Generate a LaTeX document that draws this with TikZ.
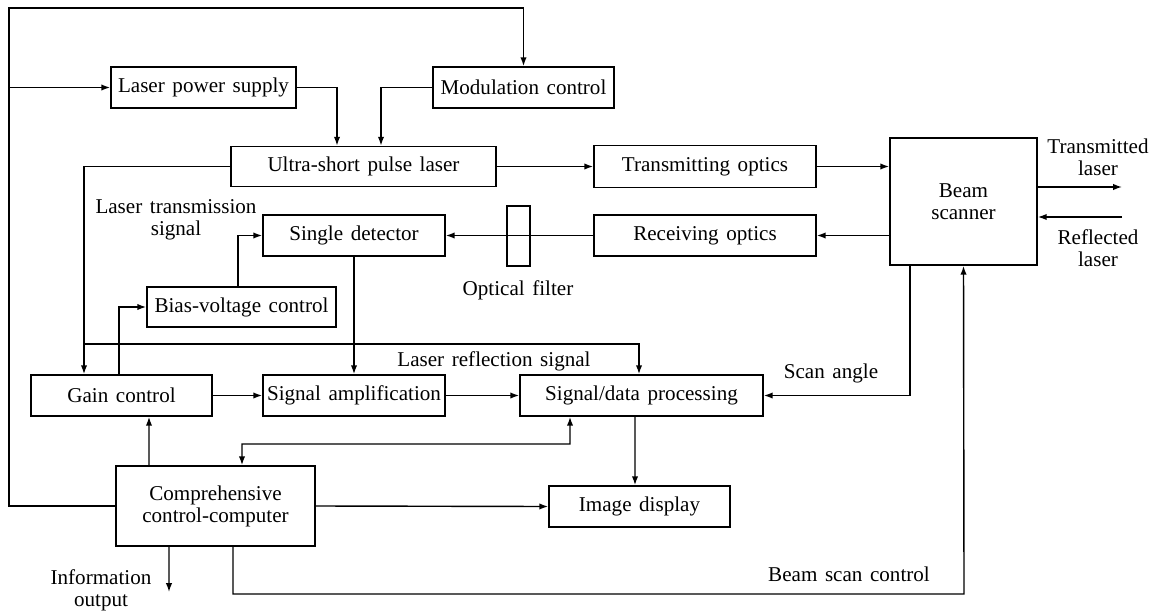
\documentclass[tikz,border=0pt]{standalone}
\usepackage{fontspec}
\setmainfont{Liberation Serif}
\usetikzlibrary{arrows.meta}

\newcommand{\diagfont}{\fontsize{12}{12.5}\selectfont\spaceskip=0.36em\relax}

\begin{document}
\begin{tikzpicture}[x=0.02cm, y=-0.02cm,
    box/.style={draw, line width=1pt, inner sep=0pt, minimum height=0.82cm, font=\diagfont},
    lbl/.style={align=center, font=\diagfont},
    conn/.style={line width=0.8pt, -{Latex[length=5pt,width=3.6pt]}}]
    \useasboundingbox (0,0) rectangle (1155,611);

    % Draw the blocks
    \node[box, minimum width=3.7cm] (lps) at (203.5,87.5) {Laser power supply};
    \node[box, minimum width=3.62cm] (mod) at (523.5,87.5) {Modulation control};
    \node[box, minimum width=5.3cm, minimum height=0.8cm] (usp) at (363.5,166.5) {Ultra-short pulse laser};
    \node[box, minimum width=4.44cm, minimum height=0.84cm] (txo) at (705,166.5) {Transmitting optics};
    \node[box, minimum width=2.94cm, minimum height=2.54cm, align=center] (bsc) at (963.5,201.5) {Beam\\scanner};
    \node[box, minimum width=4.44cm] (rxo) at (705,235.5) {Receiving optics};
    \node[box, minimum width=3.64cm] (det) at (354,235.5) {Single detector};
    \node[box, minimum width=3.78cm, minimum height=0.8cm] (bias) at (241.5,307) {Bias-voltage control};
    \node[box, minimum width=3.62cm] (gain) at (121.5,395.5) {Gain control};
    \node[box, minimum width=3.64cm] (amp) at (354,395.5) {Signal amplification};
    \node[box, minimum width=4.86cm] (sdp) at (641.5,395.5) {Signal/data processing};
    \node[box, minimum width=3.62cm] (img) at (639.5,506.5) {Image display};
    \node[box, minimum width=3.98cm, minimum height=1.6cm, align=center] (comp) at (215.5,506) {Comprehensive\\control-computer};

    % Draw the optical filter
    \node[draw, line width=0.8pt, inner sep=0pt, minimum width=0.46cm, minimum height=1.2cm] (filt) at (518.5,236) {};

    % Draw the labels
    \node[lbl] (ltx) at (176,220) {Laser transmission\\signal};
    \node[lbl] (lof) at (518,290) {Optical filter};
    \node[lbl] (lrf) at (494,361) {Laser reflection signal};
    \node[lbl] (lsa) at (831,373) {Scan angle};
    \node[lbl] (lbc) at (849,574) {Beam scan control};
    \node[lbl] (lio) at (101,590) {Information\\output};
    \node[lbl] (ltl) at (1098,157) {Transmitted\\laser};
    \node[lbl] (lrl) at (1098,248) {Reflected\\laser};

    % Corner points
    \coordinate (lefttop) at (9,8);
    \coordinate (rail) at (84,344);
    \coordinate (bus) at (242,444);
    \coordinate (scanbus) at (964,594);
    \coordinate (infoend) at (169,592);
    \coordinate (txout) at (1122,187);
    \coordinate (rxin) at (1122,217);

    % Draw the connections
    \draw[conn] (comp.west) -| (lefttop) -| (mod.north);
    \draw[conn] (lefttop |- lps.west) -- (lps.west);
    \draw[conn] (lps.east) -| ([xshift=-0.53cm]usp.north);
    \draw[conn] (mod.west) -| ([xshift=0.35cm]usp.north);
    \draw[conn] (usp.east) -- (txo.west);
    \draw[conn] (txo.east) -- (txo.east -| bsc.west);
    \draw[conn] (bsc.east |- txout) -- (txout);
    \draw[conn] (rxin) -- (rxin -| bsc.east);
    \draw[conn] (rxo.east -| bsc.west) -- (rxo.east);
    \draw[conn] (rxo.west) -- (det.east);
    \draw[conn] (usp.west) -| (rail |- gain.north);
    \draw[conn] (rail) -| ([xshift=-0.05cm]sdp.north);
    \draw[conn] ([xshift=-0.05cm]gain.north) |- (bias.west);
    \draw[conn] ([xshift=-0.07cm]bias.north) |- (det.west);
    \draw[conn] (det.south) -- (amp.north);
    \draw[conn] (gain.east) -- (amp.west);
    \draw[conn] (amp.east) -- (sdp.west);
    \draw[conn] ([xshift=-1.07cm]bsc.south) |- (sdp.east);
    \draw[conn] ([xshift=-0.13cm]sdp.south) -- ([xshift=-0.09cm]img.north);
    \draw[conn, {Latex[length=5pt,width=3.6pt]}-{Latex[length=5pt,width=3.6pt]}] ([xshift=-1.43cm]sdp.south) |- (bus) -- ([xshift=0.53cm]comp.north);
    \draw[conn] ([xshift=-1.33cm]comp.north) -- ([xshift=0.55cm]gain.south);
    \draw[conn] (comp.east) -- (img.west);
    \draw[conn] ([xshift=-0.93cm]comp.south) -- (infoend);
    \draw[conn] ([xshift=0.35cm]comp.south) |- (scanbus) -- (bsc.south);
\end{tikzpicture}
\end{document}
